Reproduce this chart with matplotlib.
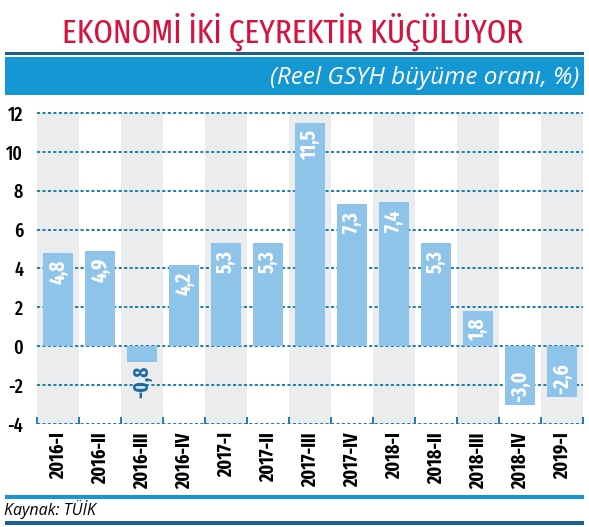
import numpy as np
import matplotlib.pyplot as plt
from matplotlib.patches import Rectangle

cond = ['Fira Sans Extra Condensed', 'Roboto Condensed', 'Barlow Condensed', 'Oswald', 'DejaVu Sans']
plt.rcParams['font.family'] = cond

quarters = ['2016-I', '2016-II', '2016-III', '2016-IV', '2017-I', '2017-II', '2017-III',
            '2017-IV', '2018-I', '2018-II', '2018-III', '2018-IV', '2019-I']
growth = [4.8, 4.9, -0.8, 4.2, 5.3, 5.3, 11.5, 7.3, 7.4, 5.3, 1.8, -3.0, -2.6]
yticks = [-4, -2, 0, 2, 4, 6, 8, 10, 12]

bar_col = '#8ec3ea'
band_col = '#ebecee'
grid_col = '#1f7ea6'
dark_blue = '#1b5f8f'
mid_blue = '#1597d3'
red = '#d6133e'

fig = plt.figure(figsize=(5.89, 5.27), dpi=100)

# title and header band
fig.text(0.4975, 0.939, 'EKONOMİ İKİ ÇEYREKTİR KÜÇÜLÜYOR', ha='center', va='center',
         color=red, fontsize=24.3, fontweight='normal')
fig.add_artist(Rectangle((0.008, 0.895), 0.984, 0.007, transform=fig.transFigure,
                         color=dark_blue, lw=0))
fig.add_artist(Rectangle((0.008, 0.820), 0.984, 0.071, transform=fig.transFigure,
                         color=mid_blue, lw=0))
fig.text(0.983, 0.852, '(Reel GSYH büyüme oranı, %)', ha='right', va='center',
         color='white', fontsize=17.5, style='italic', family='Open Sans')

# footer
fig.add_artist(Rectangle((0.008, 0.054), 0.984, 0.007, transform=fig.transFigure,
                         color=mid_blue, lw=0))
fig.text(0.006, 0.034, 'Kaynak: TÜİK', ha='left', va='center', color='black',
         fontsize=11.5, style='italic', family='Open Sans')
fig.add_artist(Rectangle((0.008, 0.003), 0.984, 0.008, transform=fig.transFigure,
                         color=dark_blue, lw=0))

ax = fig.add_axes([0.063, 0.1954, 0.927, 0.594])
x = np.arange(len(quarters))
ax.set_xlim(-0.5, len(quarters) - 0.5)
ax.set_ylim(-4, 12.1)

for i in x[::2]:
    ax.axvspan(i - 0.5, i + 0.5, ymin=0, ymax=16 / 16.1, color=band_col, lw=0, zorder=0)

for y in yticks:
    ax.axhline(y, color=grid_col, lw=1.4, ls=(0, (1.6, 1.2)), zorder=1)

ax.bar(x, growth, width=0.7, color=bar_col, zorder=2)

for i, v in enumerate(growth):
    txt = f'{v:.1f}'.replace('.', ',')
    if v > 0:
        ax.annotate(txt, (i, v), xytext=(0, -5), textcoords='offset points', rotation=90,
                    ha='center', va='top', color='white', fontsize=15, fontweight='bold',
                    zorder=3)
    elif v > -1.5:
        ax.annotate(txt, (i, v), xytext=(0, -3), textcoords='offset points', rotation=90,
                    ha='center', va='top', color='#1a6aa3', fontsize=15, fontweight='bold',
                    zorder=3)
    else:
        ax.annotate(txt, (i, v), xytext=(0, 2), textcoords='offset points', rotation=90,
                    ha='center', va='bottom', color='white', fontsize=15, fontweight='bold',
                    zorder=3)

for s in ax.spines.values():
    s.set_visible(False)

ax.set_yticks(yticks)
ax.set_yticklabels([str(t) for t in yticks], fontsize=14, fontweight='medium')
ax.tick_params(axis='y', length=0, pad=10)
ax.set_xticks(x)
ax.set_xticklabels(quarters, rotation=90, fontsize=14, fontweight='bold')
ax.tick_params(axis='x', length=0, pad=6)
ax.set_xticks(np.arange(len(quarters) + 1) - 0.5, minor=True)
ax.tick_params(axis='x', which='minor', direction='in', length=5, width=1.4, color=grid_col)

fig.savefig('out.png', dpi=100)
